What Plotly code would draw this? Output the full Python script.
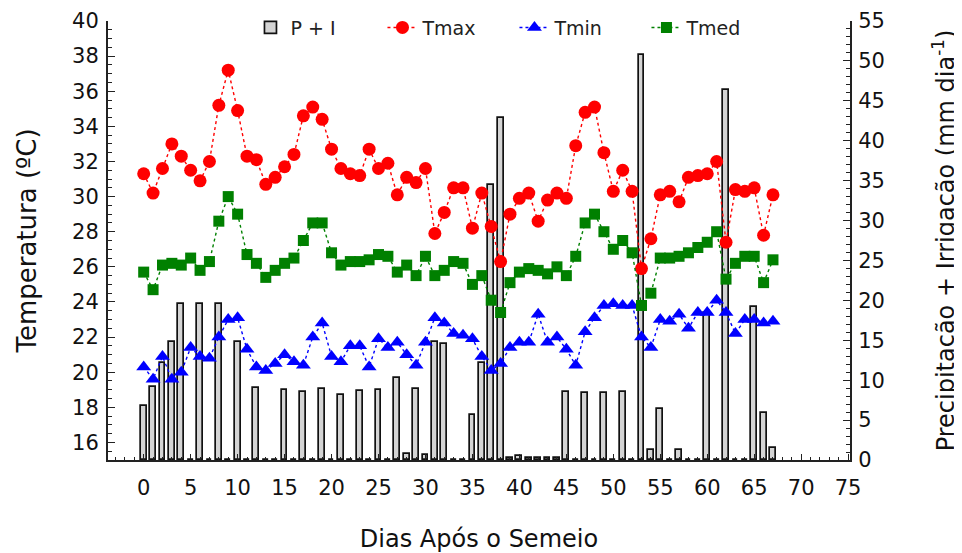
import plotly.graph_objects as go

days = list(range(68))

tmax = [31.3, 30.2, 31.6, 33.0, 32.3, 31.5, 30.9, 32.0, 35.2, 37.2,
        34.9, 32.3, 32.1, 30.7, 31.1, 31.7, 32.4, 34.6, 35.1, 34.4,
        32.7, 31.6, 31.3, 31.2, 32.7, 31.6, 31.9, 30.1, 31.1, 30.8,
        31.6, 27.9, 29.1, 30.5, 30.5, 28.2, 30.2, 28.3, 26.3, 29.0,
        29.9, 30.2, 28.6, 29.8, 30.2, 29.9, 32.9, 34.8, 35.1, 32.5,
        30.3, 31.5, 30.3, 25.9, 27.6, 30.1, 30.3, 29.7, 31.1, 31.2,
        31.3, 32.0, 27.4, 30.4, 30.3, 30.5, 27.8, 30.1]

tmin = [20.3, 19.6, 20.9, 19.6, 20.0, 21.4, 20.9, 20.8, 22.0, 23.0,
        23.1, 21.3, 20.3, 20.1, 20.5, 21.0, 20.6, 20.4, 22.0, 22.8,
        20.9, 20.6, 21.5, 21.5, 20.3, 21.9, 21.4, 21.7, 21.0, 20.4,
        21.7, 23.1, 22.8, 22.2, 22.1, 21.9, 20.9, 20.1, 20.5, 21.4,
        21.7, 21.7, 23.3, 21.7, 22.0, 21.3, 20.4, 22.3, 23.1, 23.8,
        23.9, 23.8, 23.8, 22.0, 21.4, 23.0, 22.9, 23.3, 22.5, 23.4,
        23.4, 24.1, 23.4, 22.2, 23.0, 23.0, 22.8, 22.9]

tmed = [25.7, 24.7, 26.1, 26.2, 26.1, 26.5, 25.8, 26.3, 28.6, 30.0,
        29.0, 26.7, 26.2, 25.4, 25.8, 26.2, 26.5, 27.5, 28.5, 28.5,
        26.8, 26.1, 26.3, 26.3, 26.4, 26.7, 26.6, 25.7, 26.1, 25.5,
        26.6, 25.5, 25.8, 26.3, 26.2, 25.0, 25.5, 24.1, 23.4, 25.1,
        25.7, 25.9, 25.8, 25.6, 26.0, 25.5, 26.6, 28.5, 29.0, 28.0,
        27.0, 27.5, 26.8, 23.8, 24.5, 26.5, 26.5, 26.6, 26.8, 27.1,
        27.4, 28.0, 25.3, 26.2, 26.6, 26.6, 25.1, 26.4]

p_i = [6.8, 9.2, 12.1, 14.8, 19.5, 0, 19.5, 0, 19.5, 0,
       14.8, 0, 9.0, 0, 0, 8.8, 0, 8.5, 0, 8.9,
       0, 8.2, 0, 8.7, 0, 8.8, 0, 10.3, 0.8, 8.9,
       0.6, 14.8, 14.5, 0, 0, 5.6, 12.2, 34.5, 42.8, 0.2,
       0.5, 0.3, 0.3, 0.2, 0.2, 8.5, 0, 8.4, 0, 8.4,
       0, 8.5, 0, 50.8, 1.2, 6.4, 0, 1.2, 0, 0,
       18.4, 0, 46.4, 0, 0, 19.2, 5.9, 1.5]

temp_ticks = list(range(16, 41, 2))
precip_ticks = list(range(0, 56, 5))
day_ticks = list(range(0, 76, 5))

FONT = "DejaVu Sans, Liberation Sans, Arial, sans-serif"

fig = go.Figure()

fig.add_trace(go.Bar(
    x=days, y=p_i, name="P + I", yaxis="y",
    width=0.62,
    marker=dict(color="#d4d4d4", line=dict(color="#111111", width=1.7)),
))

fig.add_trace(go.Scatter(
    x=days, y=tmax, name="Tmax", yaxis="y2", mode="lines+markers",
    line=dict(color="#ff0000", width=1.4, dash="dot"),
    marker=dict(symbol="circle", size=13, color="#ff0000"),
))
fig.add_trace(go.Scatter(
    x=days, y=tmin, name="Tmin", yaxis="y2", mode="lines+markers",
    line=dict(color="#0000ff", width=1.4, dash="dot"),
    marker=dict(symbol="triangle-up", size=13, color="#0000ff"),
))
fig.add_trace(go.Scatter(
    x=days, y=tmed, name="Tmed", yaxis="y2", mode="lines+markers",
    line=dict(color="#008000", width=1.4, dash="dot"),
    marker=dict(symbol="square", size=11, color="#008000"),
))

axis_line = dict(showline=True, linecolor="#222222", linewidth=2,
                 showgrid=False, zeroline=False, automargin=False)

fig.update_layout(
    width=954, height=545,
    margin=dict(l=100, r=112, t=13, b=93, autoexpand=False),
    paper_bgcolor="white", plot_bgcolor="white",
    font=dict(family=FONT, color="#111111"),
    bargap=0,
    showlegend=True,
    legend=dict(orientation="h", x=0.192, y=0.985, xanchor="left", yanchor="middle",
                font=dict(size=19, color="#222222"), bgcolor="rgba(0,0,0,0)",
                entrywidth=87, entrywidthmode="pixels"),
    xaxis=dict(range=[-3.8, 75.2], tickvals=day_ticks, ticks="inside", ticklen=6,
               tickcolor="#222222", tickfont=dict(size=21), ticklabelstandoff=8,
               minor=dict(ticks="inside", ticklen=3, dtick=1, tickcolor="#222222"),
               title=dict(text="Dias Após o Semeio", font=dict(size=24), standoff=33),
               **axis_line),
    yaxis=dict(range=[0, 55], side="right", tickvals=precip_ticks, ticks="inside",
               ticklen=7, tickcolor="#222222", tickfont=dict(size=21), ticklabelstandoff=2,
               minor=dict(ticks="inside", ticklen=4, dtick=1, tickcolor="#222222"),
               title=dict(text="Precipitação + Irrigação (mm dia<sup>-1</sup>)",
                          font=dict(size=24), standoff=53),
               **axis_line),
    yaxis2=dict(range=[15, 40], side="left", overlaying="y", tickvals=temp_ticks,
                ticks="inside", ticklen=7, tickcolor="#222222", tickfont=dict(size=21),
                ticklabelstandoff=3,
                minor=dict(ticks="inside", ticklen=4, dtick=0.5, tickcolor="#222222"),
                title=dict(text="Temperatura (ºC)", font=dict(size=26), standoff=28),
                **axis_line),
)

fig.write_html("out.html")
